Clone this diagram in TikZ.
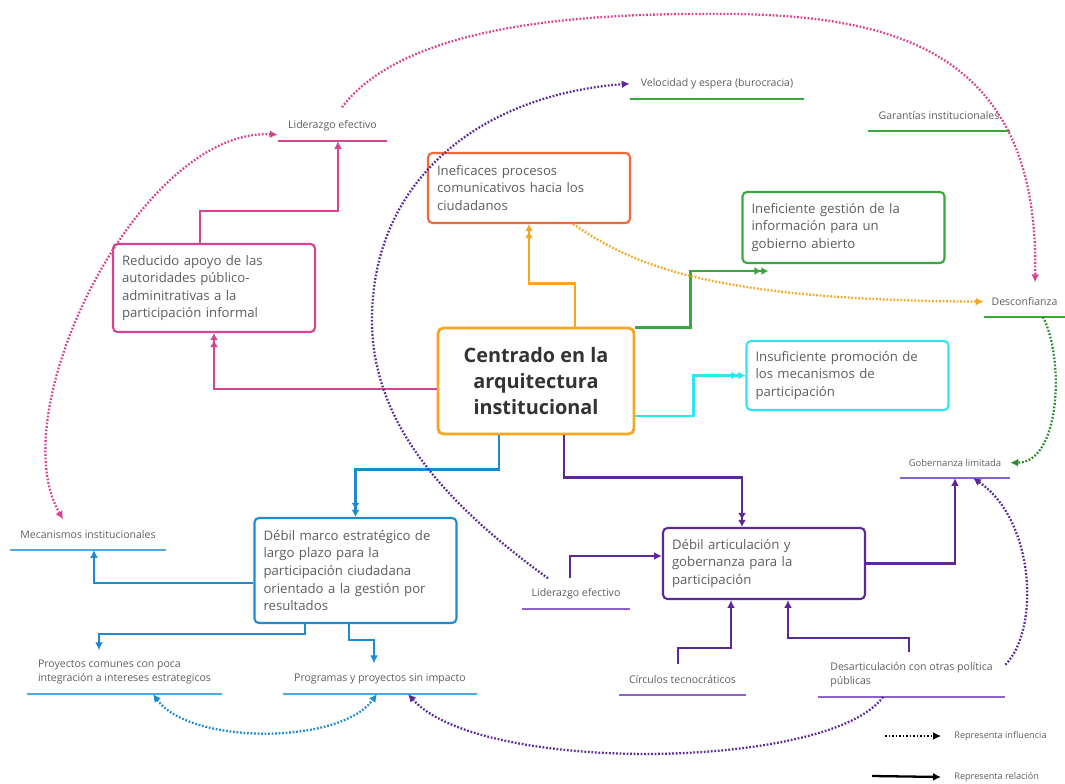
\documentclass[tikz,border=0pt]{standalone}
\usepackage{fontspec}
\setmainfont{Open Sans}
\usetikzlibrary{arrows.meta}

\definecolor{cOrange}{HTML}{F7A623}
\definecolor{cRed}{HTML}{F2683A}
\definecolor{cGreen}{HTML}{36A93A}
\definecolor{cGreenD}{HTML}{2B8A2B}
\definecolor{cCyan}{HTML}{2DE6F2}
\definecolor{cPink}{HTML}{D8428E}
\definecolor{cBlue}{HTML}{1E8AD2}
\definecolor{cBlueL}{HTML}{4FA8E3}
\definecolor{cPurple}{HTML}{5B2A96}
\definecolor{cPurpleL}{HTML}{8A62C9}
\definecolor{txt}{HTML}{5E5E5E}
\definecolor{dark}{HTML}{333333}

\begin{document}
\begin{tikzpicture}[
    x=0.02cm,
    y=-0.02cm,
    >={Latex[length=4.5pt,width=4.5pt]},
    box/.style={
        draw=#1,
        line width=1.2pt,
        rounded corners=2.5pt,
        fill=white,
        text=txt,
        align=left,
        text width=3.68cm,
        minimum height=1.4cm,
        inner xsep=0.18cm,
        font=\fontsize{7.5}{10}\selectfont
    },
    main/.style={
        draw=cOrange,
        line width=1.6pt,
        rounded corners=3pt,
        fill=white,
        text=dark,
        align=center,
        minimum width=3.92cm,
        minimum height=2.12cm,
        font=\fontsize{11.3}{15}\selectfont\bfseries
    },
    tag/.style={
        text=txt,
        anchor=south,
        inner ysep=0pt,
        minimum height=0.6cm,
        font=\fontsize{6}{8}\selectfont,
        append after command={(\tikzlastnode.south west) edge[draw=#1, line width=1.1pt] (\tikzlastnode.south east)}
    },
    legend/.style={
        text=txt,
        anchor=west,
        inner xsep=0.26cm,
        font=\fontsize{5.2}{6}\selectfont
    },
    rel/.style={draw=#1, line width=1.3pt, ->},
    rel2/.style={rel=#1, -{Latex[length=4pt,width=4.5pt]Latex[length=4pt,width=4.5pt]}},
    infl/.style={draw=#1, line width=1.3pt, dash pattern=on 1pt off 1pt, ->}
]
    \useasboundingbox (0,0) rectangle (1065,784);

    % --- Boxes ---
    \node[main] (cen) at (536,381) {Centrado en la\\arquitectura\\institucional};
    \node[box=cRed] (orng) at (529,188) {Ineficaces procesos\\comunicativos hacia los\\ciudadanos};
    \node[box=cGreen, minimum height=1.42cm] (grn) at (843.5,227.5) {Ineficiente gestión de la\\información para un\\gobierno abierto};
    \node[box=cCyan, minimum height=1.38cm] (cyn) at (847.5,375.5) {Insuficiente promoción de\\los mecanismos de\\participación};
    \node[box=cPink, minimum height=1.76cm] (pnk) at (214,288) {Reducido apoyo de las\\autoridades público-\\adminitrativas a la\\participación informal};
    \node[box=cBlue, minimum height=2.1cm] (blu) at (355.5,570.5) {Débil marco estratégico de\\largo plazo para la\\participación ciudadana\\orientado a la gestión por\\resultados};
    \node[box=cPurple, minimum height=1.42cm] (pur) at (764,563.5) {Débil articulación y\\gobernanza para la\\participación};

    % --- Labels ---
    \node[tag=cPink, minimum width=2.18cm] (lidA) at (332.5,141) {Liderazgo efectivo};
    \node[tag=cGreen, minimum width=3.48cm] (velo) at (717,99) {Velocidad y espera (burocracia)};
    \node[tag=cGreen, minimum width=2.84cm] (gara) at (939,131) {Garantías institucionales};
    \node[tag=cGreen, minimum width=1.62cm] (desc) at (1024.5,317) {Desconfianza};
    \node[tag=cPurpleL, minimum width=2.2cm, font=\fontsize{5.4}{7}\selectfont] (gobe) at (955,478) {Gobernanza limitada};
    \node[tag=cBlueL, minimum width=3.12cm] (meca) at (88,550) {Mecanismos institucionales};
    \node[tag=cPurpleL, minimum width=2.16cm] (lidB) at (576,609) {Liderazgo efectivo};
    \node[tag=cBlueL, minimum width=3.9cm, minimum height=0.86cm, align=left] (proy) at (124.5,694) {Proyectos comunes con poca\\integración a intereses estrategicos};
    \node[tag=cBlueL, minimum width=3.88cm] (prog) at (380,694) {Programas y proyectos sin impacto};
    \node[tag=cPurpleL, minimum width=2.54cm] (circ) at (682.5,695) {Círculos tecnocráticos};
    \node[tag=cPurpleL, minimum width=3.74cm, minimum height=0.88cm, align=left] (desa) at (911.5,697) {Desarticulación con otras política\\públicas};

    % --- Relations ---
    \draw[rel2=cOrange] ([xshift=0.78cm]cen.north) -- ++(0,-43) -| (orng.south);
    \draw[rel2=cGreen] ([yshift=-0.02cm]cen.north east) -- ++(55,0) |- ([xshift=0.54cm,yshift=-0.14cm]grn.south west);
    \draw[rel2=cCyan] ([yshift=-0.7cm]cen.east) -- ++(58,0) |- (cyn.west);
    \draw[rel2=cPink] ([yshift=-0.16cm]cen.west) -| (pnk.south);
    \draw[rel2=cBlue] ([xshift=-0.74cm]cen.south) -- ++(0,34) -| (blu.north);
    \draw[rel2=cPurple] ([xshift=0.56cm]cen.south) -- ++(0,42) -| ([xshift=-0.44cm]pur.north);

    \draw[rel=cPink] ([xshift=-0.28cm]pnk.north) -- ++(0,-32) -| ([xshift=0.11cm]lidA.south);
    \draw[rel=cBlue] ([yshift=-0.25cm]blu.west) -| ([xshift=0.12cm]meca.south);
    \draw[rel=cBlue] ([xshift=-1.01cm]blu.south) -- ++(0,10) -| ([xshift=-0.51cm]proy.north);
    \draw[rel=cBlue] ([xshift=-0.13cm]blu.south) -- ++(0,16) -| ([xshift=-0.12cm]prog.north);
    \draw[rel=cPurple] ([xshift=-0.12cm]lidB.north) |- ([yshift=0.15cm]pur.west);
    \draw[rel=cPurple] (pur.east) -| (gobe.south);
    \draw[rel=cPurple] ([xshift=-0.09cm]circ.north) -- ++(0,-16) -| ([xshift=-0.66cm]pur.south);
    \draw[rel=cPurple] ([xshift=-0.05cm]desa.north) -- ++(0,-14) -| ([xshift=0.48cm]pur.south);

    % --- Influences ---
    \draw[infl=cPink] ([xshift=0.19cm,yshift=0.06cm]lidA.north)
        .. controls (400,30) and (560,14) .. (700,14)
        .. controls (880,12) and (1040,40) .. ([xshift=0.21cm,yshift=0.08cm]desc.north);
    \draw[infl=cPink, <->] ([yshift=-0.18cm]lidA.west)
        .. controls (140,128) and (0,410) .. ([xshift=-0.5cm]meca.north);
    \draw[infl=cPurple] ([xshift=-0.56cm]lidB.north)
        .. controls (440,500) and (372,420) .. (372,320)
        .. controls (372,180) and (480,95) .. (velo.west);
    \draw[infl=cOrange] ([xshift=0.88cm]orng.south)
        .. controls (630,262) and (700,300) .. (desc.west);
    \draw[infl=cGreenD] ([xshift=0.37cm]desc.south)
        .. controls (1065,360) and (1060,463) .. (gobe.east);
    \draw[infl=cPurple] ([yshift=0.2cm]desa.east)
        .. controls (1040,630) and (1035,520) .. ([xshift=0.36cm]gobe.south);
    \draw[infl=cPurple] ([xshift=-0.57cm]desa.south)
        .. controls (830,770) and (480,775) .. ([xshift=0.56cm]prog.south);
    \draw[infl=cBlue, <->] ([xshift=0.57cm]proy.south)
        .. controls (190,745) and (340,745) .. ([xshift=-0.06cm]prog.south);

    % --- Legend ---
    \coordinate (lgI) at (885,736);
    \coordinate (lgR) at (872,776);
    \node[legend] (lgtI) at (941,736) {Representa influencia};
    \node[legend] (lgtR) at (941,777) {Representa relación};
    \draw[infl=black] (lgI) -- (lgtI.west);
    \draw[rel=black] (lgR) -- (lgtR.west);
\end{tikzpicture}
\end{document}
